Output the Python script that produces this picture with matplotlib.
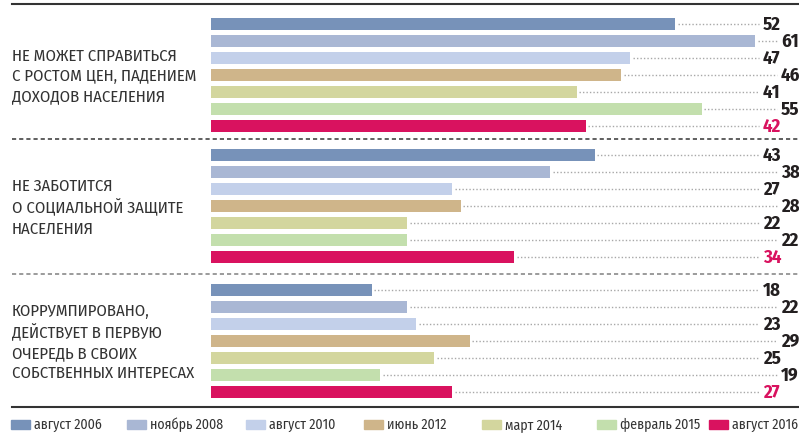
import matplotlib
matplotlib.use('Agg')
import matplotlib.pyplot as plt
from matplotlib.patches import Rectangle

plt.rcParams['font.family'] = ['Fira Sans Condensed', 'DejaVu Sans']

# data
categories = ['НЕ МОЖЕТ СПРАВИТЬСЯ\nС РОСТОМ ЦЕН, ПАДЕНИЕМ\nДОХОДОВ НАСЕЛЕНИЯ',
              'НЕ ЗАБОТИТСЯ\nО СОЦИАЛЬНОЙ ЗАЩИТЕ\nНАСЕЛЕНИЯ',
              'КОРРУМПИРОВАНО,\nДЕЙСТВУЕТ В ПЕРВУЮ\nОЧЕРЕДЬ В СВОИХ\nСОБСТВЕННЫХ ИНТЕРЕСАХ']
periods = ['август 2006', 'ноябрь 2008', 'август 2010', 'июнь 2012',
           'март 2014', 'февраль 2015', 'август 2016']
colors = ['#7792b9', '#a9b7d4', '#c3d0ea', '#cfb58a', '#d3d69e', '#c3dfad', '#d9125f']
prices = [52, 61, 47, 46, 41, 55, 42]
social = [43, 38, 27, 28, 22, 22, 34]
corrupt = [18, 22, 23, 29, 25, 19, 27]
values = [prices, social, corrupt]

W, H = 799, 433
x0 = 211          # pixel where bars start
scale = 8.92      # pixels per percent
group_top = [24, 155, 290]
step = 17

fig = plt.figure(figsize=(W / 100, H / 100), dpi=100)
ax = fig.add_axes([0, 0, 1, 1])
ax.set_xlim(-x0 / scale, (W - x0) / scale)
ax.set_ylim(H, 0)
ax.axis('off')

def px(p):
    return (p - x0) / scale

dark = '#231f20'
for g, vals in enumerate(values):
    ys = [group_top[g] + i * step for i in range(len(vals))]
    ax.barh(ys, vals, height=12, color=colors, left=0)
    for i, (y, v) in enumerate(zip(ys, vals)):
        lab_x = 763 if i % 2 == 0 else 781
        ax.plot([v + 0.3, px(lab_x - 4)], [y, y], ls=(0, (1, 1.5)), color='#a8a8a8', lw=1)
        ax.text(px(lab_x), y + 0.5, str(v), ha='left', va='center', fontsize=13.5,
                fontweight='bold', color=colors[6] if i == 6 else dark, clip_on=False)
    ax.text(px(12), (ys[0] + ys[-1]) / 2 + 1.5, categories[g], ha='left', va='center',
            fontsize=12, color='#333333', linespacing=1.32)

# frame lines
ax.plot([px(12), px(W)], [4, 4], color='#333333', lw=1.5)
ax.plot([px(12), px(W)], [407, 407], color='#333333', lw=1.5)
ax.plot([px(12), px(W)], [139, 139], color='#444444', lw=1.2, ls=(0, (2.5, 1.8)))
ax.plot([px(12), px(W)], [274, 274], color='#8a8a8a', lw=1.2, ls=(0, (2.5, 1.8)))

# legend
leg_x = [11, 127, 246, 364, 482, 597, 709]
for lx, c, p in zip(leg_x, colors, periods):
    fig.patches.append(Rectangle((lx / W, 1 - 429 / H), 19 / W, 9 / H,
                                 transform=fig.transFigure, color=c))
    fig.text((lx + 23) / W, 1 - 429 / H, p, ha='left', va='baseline',
             fontsize=10, color='#333333')

fig.savefig('out.png', dpi=100)
